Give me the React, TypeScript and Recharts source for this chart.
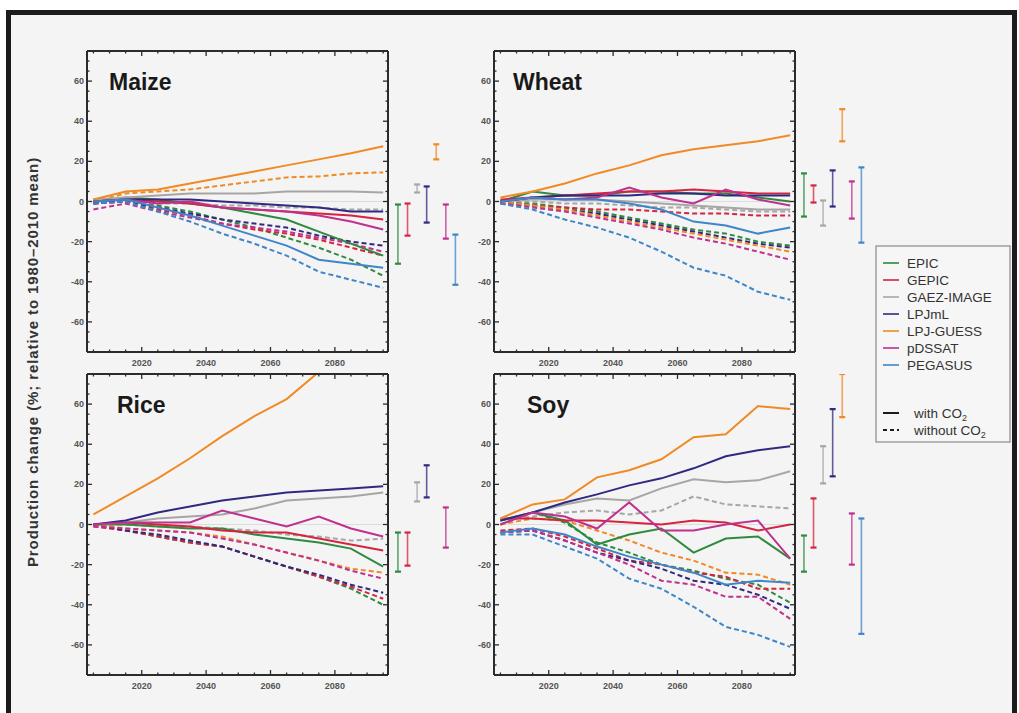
import React from 'react'
import { LineChart, Line, XAxis, YAxis, ReferenceLine, BarChart, Bar } from 'recharts'

const years = [2005, 2015, 2025, 2035, 2045, 2055, 2065, 2075, 2085, 2095]
const models = ['EPIC', 'GEPIC', 'GAEZ-IMAGE', 'LPJmL', 'LPJ-GUESS', 'pDSSAT', 'PEGASUS']
const modelColors = ['#2e8a3e', '#d6243f', '#a6a6a6', '#2f2a80', '#f08a24', '#c0308e', '#3f86c9']

const xTicks = [2005, 2010, 2015, 2020, 2025, 2030, 2035, 2040, 2045, 2050, 2055, 2060, 2065, 2070, 2075, 2080, 2085, 2090, 2095]
const yTicks = [-75, -70, -65, -60, -55, -50, -45, -40, -35, -30, -25, -20, -15, -10, -5, 0, 5, 10, 15, 20, 25, 30, 35, 40, 45, 50, 55, 60, 65, 70, 75]

type Series = Record<string, number[]>

// Maize
const maizeWith: Series = {
  EPIC: [0, 2, 1, -1, -3, -6, -9, -15, -21, -27],
  GEPIC: [1, 1, 0, -1, -3, -4, -5, -6, -7, -9],
  'GAEZ-IMAGE': [1, 2, 3, 4, 4, 4, 5, 5, 5, 4.5],
  LPJmL: [0, 1, 1, 1, 0, -1, -2, -3, -5, -5],
  'LPJ-GUESS': [1, 5, 6, 9, 12, 15, 18, 21, 24, 27.5],
  pDSSAT: [0, 1, -1, 0, -3, -4, -5, -7, -10, -14],
  PEGASUS: [0, 1, -3, -7, -12, -17, -22, -29, -31, -33],
}
const maizeWithout: Series = {
  EPIC: [-1, 1, -2, -5, -9, -13, -18, -23, -29, -37],
  GEPIC: [-1, 0, -4, -7, -11, -14, -16, -19, -23, -27],
  'GAEZ-IMAGE': [0, 0, -1, -1, -2, -2, -3, -3, -4, -4],
  LPJmL: [-1, 0, -3, -6, -9, -11, -13, -17, -20, -22],
  'LPJ-GUESS': [0, 4, 5, 6, 8, 10, 12, 12.5, 14, 14.5],
  pDSSAT: [-4, -1, -5, -8, -11, -13, -15, -18, -21, -25],
  PEGASUS: [-1, 0, -5, -10, -16, -21, -27, -35, -39, -43],
}

// Wheat
const wheatWith: Series = {
  EPIC: [0, 5, 3, 3, 5, 5, 4, 4, 2, 0],
  GEPIC: [1, 2, 3, 4, 5, 5, 6, 5, 4, 4],
  'GAEZ-IMAGE': [0, 1, 1, 1, 0, -1, -2, -3, -4, -4],
  LPJmL: [0, 2, 3, 3, 3, 4, 4, 3, 3, 3],
  'LPJ-GUESS': [2, 5, 9, 14, 18, 23, 26, 28, 30, 33],
  pDSSAT: [0, 2, 1, 2, 7, 2, -1, 6, 1, -2],
  PEGASUS: [0, 2, 1, 1, -1, -4, -10, -12, -16, -13],
}
const wheatWithout: Series = {
  EPIC: [0, -1, -3, -5, -8, -11, -14, -16, -20, -22],
  GEPIC: [-1, -2, -3, -4, -4, -5, -6, -6, -7, -7],
  'GAEZ-IMAGE': [0, 0, -1, -1, -2, -3, -3, -4, -5, -5],
  LPJmL: [0, -2, -4, -6, -9, -12, -15, -18, -21, -23],
  'LPJ-GUESS': [0, -2, -4, -7, -10, -13, -16, -19, -22, -25],
  pDSSAT: [-1, -3, -5, -8, -11, -14, -18, -21, -25, -29],
  PEGASUS: [-1, -4, -9, -13, -18, -25, -33, -37, -45, -49],
}

// Rice
const riceWith: Series = {
  EPIC: [0, 0, -1, -2, -2, -5, -7, -9, -12, -21],
  GEPIC: [0, 1, 0, -1, -3, -4, -4, -7, -10, -13],
  'GAEZ-IMAGE': [0, 1, 3, 4, 5, 8, 12, 13, 14, 16],
  LPJmL: [0, 2, 6, 9, 12, 14, 16, 17, 18, 19],
  'LPJ-GUESS': [5, 14, 23, 33, 44, 54, 62.5, 76, 88, 100],
  pDSSAT: [0, 1, 1, 1, 7, 3, -1, 4, -2, -6],
}
const riceWithout: Series = {
  EPIC: [0, -3, -6, -9, -11, -16, -21, -26, -32, -40],
  GEPIC: [-1, -3, -6, -9, -11, -16, -21, -26, -31, -37],
  'GAEZ-IMAGE': [0, 0, -1, -1, -2, -3, -5, -6, -8, -7],
  LPJmL: [0, -3, -5, -8, -11, -16, -21, -25, -30, -34],
  'LPJ-GUESS': [0, -2, -3, -4, -6, -10, -14, -18, -22, -24],
  pDSSAT: [-1, -2, -3, -4, -7, -10, -14, -18, -23, -27],
}

// Soy
const soyWith: Series = {
  EPIC: [2, 6, 2, -10, -5, -2, -14, -7, -6, -17],
  GEPIC: [3, 3, 2, 2, 1, 0, 2, 1, -3, 0],
  'GAEZ-IMAGE': [2, 6, 10, 13, 12, 18, 22.5, 21, 22, 26.5],
  LPJmL: [2, 6, 11, 15, 19.5, 23, 28, 34, 37, 39],
  'LPJ-GUESS': [3, 10, 12.5, 23.5, 27, 32.5, 43.5, 45, 59, 57.5],
  pDSSAT: [0, 6, 4, -2, 11, -3, -3, 0, 2, -17],
  PEGASUS: [-4, -2, -5, -11, -16, -20, -24, -30, -28, -29],
}
const soyWithout: Series = {
  EPIC: [0, 6, 1, -9, -14, -20, -23, -27, -30, -39],
  GEPIC: [-3, -2, -6, -12, -18, -20, -24, -26, -32, -32],
  'GAEZ-IMAGE': [2, 4, 6, 7, 5, 7, 14, 10, 9, 8],
  LPJmL: [-4, -3, -8, -14, -18, -22, -28, -30, -35, -42],
  'LPJ-GUESS': [0, 3, 2, -3, -8, -14, -18, -24, -25, -30],
  pDSSAT: [-4, -3, -8, -14, -20, -28, -30, -36, -36, -47],
  PEGASUS: [-5, -5, -11, -17, -27, -32, -41, -51, -55, -61],
}

// model ranges shown beside each panel (low / high)
const maizeLo = [-31, -17, 4.5, -10.5, 21, -18.5, -41.5]
const maizeHi = [-1.5, -1, 8.5, 7.5, 28.5, -1.5, -16.5]
const wheatLo = [-7.5, -0.5, -12, -2.5, 30, -8.5, -20.5]
const wheatHi = [14, 8, 0.5, 15.5, 46, 10, 17]
const riceLo = [-23.5, -20.5, 11.5, 13.5, null, -11.5, null]
const riceHi = [-4, -4, 21, 29.5, null, 8.5, null]
const soyLo = [-23.5, -11.5, 20.5, 24, 53.5, -20, -54.5]
const soyHi = [-5.5, 13, 39, 57.5, 75, 5.5, 3]

const FRAME = '#2b2b2b'
const PLOT_W = 301
const PLOT_H = 301

function FrameTick(props: any) {
  const { x, y, payload, side } = props
  const v = payload.value
  const major = v % 20 === 0
  const len = major ? 5 : 2.5
  let x2 = x
  let y2 = y
  if (side === 'bottom') y2 = y - len
  if (side === 'top') y2 = y + len
  if (side === 'left') x2 = x + len
  if (side === 'right') x2 = x - len
  const lbl = { fontSize: 9, fontWeight: 700, fill: '#555', fontFamily: 'Arial, "Liberation Sans", sans-serif' }
  return (
    <g>
      <line x1={x} y1={y} x2={x2} y2={y2} stroke={FRAME} strokeWidth={1.3} />
      {major && side === 'bottom' && (
        <text x={x} y={y + 14} textAnchor="middle" {...lbl}>{v}</text>
      )}
      {major && side === 'left' && Math.abs(v) <= 60 && (
        <text x={x - 3} y={y + 3} textAnchor="end" {...lbl}>{v}</text>
      )}
    </g>
  )
}

function CropPanel({ withCO2, withoutCO2, left, top }: { withCO2: Series; withoutCO2: Series; left: number; top: number }) {
  const rows = years.map((yr, i) => {
    const row: Record<string, number> = { year: yr }
    models.forEach((m) => {
      if (withCO2[m]) row[m + ' w'] = withCO2[m][i]
      if (withoutCO2[m]) row[m + ' n'] = withoutCO2[m][i]
    })
    return row
  })
  const axisLine = { stroke: FRAME, strokeWidth: 2 }
  return (
    <div style={{ position: 'absolute', left: left - 30, top: top - 6 }}>
      <LineChart width={PLOT_W + 36} height={PLOT_H + 26} data={rows} margin={{ top: 4, right: 4, bottom: 0, left: 0 }}>
        <XAxis xAxisId="b" dataKey="year" type="number" domain={[2003, 2096.5]} ticks={xTicks} interval={0}
          orientation="bottom" height={20} tickSize={0} tickMargin={0} tickLine={false} axisLine={axisLine}
          allowDataOverflow tick={(p: any) => <FrameTick {...p} side="bottom" />} />
        <XAxis xAxisId="t" dataKey="year" type="number" domain={[2003, 2096.5]} ticks={xTicks} interval={0}
          orientation="top" height={2} tickSize={0} tickMargin={0} tickLine={false} axisLine={axisLine}
          allowDataOverflow tick={(p: any) => <FrameTick {...p} side="top" />} />
        <YAxis yAxisId="l" type="number" domain={[-75, 75]} ticks={yTicks} interval={0}
          width={30} tickSize={0} tickMargin={0} tickLine={false} axisLine={axisLine}
          allowDataOverflow tick={(p: any) => <FrameTick {...p} side="left" />} />
        <YAxis yAxisId="r" orientation="right" type="number" domain={[-75, 75]} ticks={yTicks} interval={0}
          width={2} tickSize={0} tickMargin={0} tickLine={false} axisLine={axisLine}
          allowDataOverflow tick={(p: any) => <FrameTick {...p} side="right" />} />
        <ReferenceLine xAxisId="b" yAxisId="l" y={0} stroke="#dcdcdc" strokeWidth={1} />
        {models.map((m, i) =>
          withoutCO2[m] ? (
            <Line key={m + 'n'} xAxisId="b" yAxisId="l" type="linear" dataKey={m + ' n'} stroke={modelColors[i]}
              strokeWidth={2} strokeDasharray="5 3" dot={false} isAnimationActive={false} />
          ) : null
        )}
        {models.map((m, i) =>
          withCO2[m] ? (
            <Line key={m + 'w'} xAxisId="b" yAxisId="l" type="linear" dataKey={m + ' w'} stroke={modelColors[i]}
              strokeWidth={2} dot={false} isAnimationActive={false} />
          ) : null
        )}
      </LineChart>
    </div>
  )
}

function RangeShape(props: any) {
  const { x, y, width, height, payload } = props
  if (!payload || payload.range == null) return <g />
  const cx = x + width / 2
  const y1 = Math.min(y, y + height)
  const y2 = Math.max(y, y + height)
  const c = modelColors[models.indexOf(payload.model)]
  return (
    <g>
      <line x1={cx} x2={cx} y1={y1} y2={y2} stroke={c} strokeWidth={1.6} strokeOpacity={0.75} />
      <line x1={cx - 3} x2={cx + 3} y1={y1} y2={y1} stroke={c} strokeWidth={2.2} />
      <line x1={cx - 3} x2={cx + 3} y1={y2} y2={y2} stroke={c} strokeWidth={2.2} />
    </g>
  )
}

function RangePanel({ lo, hi, left, top }: { lo: (number | null)[]; hi: (number | null)[]; left: number; top: number }) {
  const rows = models.map((m, i) => ({
    model: m,
    range: lo[i] == null || hi[i] == null ? null : [lo[i], hi[i]],
  }))
  return (
    <div style={{ position: 'absolute', left, top }}>
      <BarChart width={67} height={PLOT_H} data={rows} margin={{ top: 0, right: 0, bottom: 0, left: 0 }}>
        <XAxis dataKey="model" type="category" hide />
        <YAxis type="number" domain={[-75, 75]} hide allowDataOverflow />
        <Bar dataKey="range" shape={<RangeShape />} isAnimationActive={false} />
      </BarChart>
    </div>
  )
}

const font = 'Arial, "Liberation Sans", Helvetica, sans-serif'
const legendRows = [263, 280, 297, 314, 331, 348, 365]

export default function App() {
  return (
    <div style={{ position: 'absolute', left: 0, top: 0, width: 1019, height: 713, background: '#ffffff', overflow: 'hidden', fontFamily: font }}>
      <div style={{ position: 'absolute', left: 6, top: 10, width: 1001, height: 720, borderTop: '5px solid #1c1c1c', borderLeft: '5px solid #1c1c1c', borderRight: '5px solid #1c1c1c', background: '#f4f4f4' }} />
      <CropPanel withCO2={maizeWith} withoutCO2={maizeWithout} left={87} top={51} />
      <CropPanel withCO2={wheatWith} withoutCO2={wheatWithout} left={494} top={51} />
      <CropPanel withCO2={riceWith} withoutCO2={riceWithout} left={87} top={374} />
      <CropPanel withCO2={soyWith} withoutCO2={soyWithout} left={494} top={374} />
      <RangePanel lo={maizeLo} hi={maizeHi} left={393} top={51} />
      <RangePanel lo={wheatLo} hi={wheatHi} left={799} top={51} />
      <RangePanel lo={riceLo} hi={riceHi} left={393} top={374} />
      <RangePanel lo={soyLo} hi={soyHi} left={799} top={374} />
      <svg width={1019} height={713} style={{ position: 'absolute', left: 0, top: 0, pointerEvents: 'none' }}>
        <g fontFamily={font} fontWeight={700} fontSize={23} fill="#1a1a1a">
          <text x={109} y={90}>Maize</text>
          <text x={513} y={90}>Wheat</text>
          <text x={117} y={413}>Rice</text>
          <text x={527} y={413}>Soy</text>
        </g>
        <text x={38} y={362} transform="rotate(-90 38 362)" textAnchor="middle" fontFamily={font} fontWeight={700} fontSize={15} letterSpacing={0.9} fill="#333">
          Production change (%; relative to 1980–2010 mean)
        </text>
        <rect x={876} y={246} width={134} height={196} fill="#f6f6f6" stroke="#8a8a8a" strokeWidth={1.2} />
        {models.map((m, i) => (
          <g key={m}>
            <line x1={883} x2={899} y1={legendRows[i]} y2={legendRows[i]} stroke={modelColors[i]} strokeWidth={1.6} />
            <text x={907} y={legendRows[i] + 5} fontFamily={font} fontSize={13.5} fill="#333">{m}</text>
          </g>
        ))}
        <line x1={883} x2={899} y1={413} y2={413} stroke="#1a1a1a" strokeWidth={2} />
        <text x={914} y={418} fontFamily={font} fontSize={13.5} fill="#333">
          with CO<tspan fontSize={9} dy={3}>2</tspan>
        </text>
        <line x1={883} x2={899} y1={430} y2={430} stroke="#1a1a1a" strokeWidth={2} strokeDasharray="4 3" />
        <text x={914} y={435} fontFamily={font} fontSize={13.5} fill="#333">
          without CO<tspan fontSize={9} dy={3}>2</tspan>
        </text>
      </svg>
    </div>
  )
}
